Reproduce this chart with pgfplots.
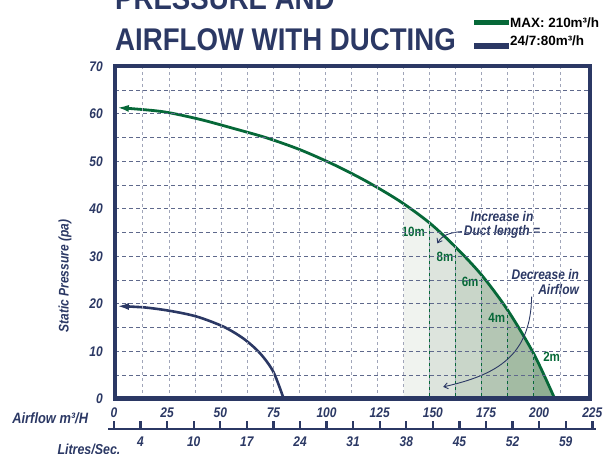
\documentclass[border=0pt]{standalone}
\usepackage{fontspec}
\setmainfont{Liberation Sans}
\newfontfamily\cf[FakeStretch=0.86]{Liberation Sans}
\newfontfamily\titlef[FakeStretch=0.88]{Liberation Sans}
\usepackage{pgfplots}
\usepackage{pgfplotstable}
\pgfplotsset{compat=1.18}
\usepgfplotslibrary{fillbetween}
\usetikzlibrary{arrows.meta}

\definecolor{navy}{RGB}{43,56,100}
\definecolor{dgreen}{RGB}{6,104,56}
\definecolor{fa}{RGB}{240,243,239}
\definecolor{fb}{RGB}{221,228,221}
\definecolor{fc}{RGB}{201,214,201}
\definecolor{fd}{RGB}{180,198,180}
\definecolor{fe}{RGB}{163,187,163}
\definecolor{ff}{RGB}{143,175,147}
\definecolor{gridx}{RGB}{160,165,185}
\definecolor{gridy}{RGB}{95,105,140}

\pgfplotstableread{
x y
0 61.3
12 60.9
24 60.3
40 58.8
56 56.9
72 54.9
88 52.4
104 49.3
120 45.7
136 41.5
150 37.0
162.5 31.9
175 26.0
187.5 18.6
200 9.4
210 0
}\maxdata

\pgfplotstableread{
x y
0 19.5
12.7 19.25
25.5 18.5
38.3 17.3
51 15.2
60.6 12.7
68.6 9.6
75 5.7
80 0
}\ecodata

\newcommand{\lab}{\cf\bfseries\itshape}

\begin{document}
\begin{tikzpicture}
\begin{axis}[
  scale only axis, width=475bp, height=332.5bp,
  at={(115bp,55.25bp)}, anchor=south west,
  xmin=-0.9, xmax=226.9, ymin=0, ymax=70,
  clip=false,
  axis on top,
  axis line style={navy, line width=4.5bp},
  xtick={12.5,25,...,212.5}, xticklabels={},
  ytick={0,10,...,70}, minor ytick={5,15,...,65},
  xmajorgrids=true, ymajorgrids=true, yminorgrids=true,
  major x grid style={gridx, line width=0.9bp, dash pattern=on 3bp off 3bp},
  major y grid style={gridy, line width=0.9bp, dash pattern=on 4bp off 3bp},
  minor y grid style={gridy, line width=0.9bp, dash pattern=on 4bp off 3bp},
  major tick length=0pt, minor tick length=0pt,
  /pgf/number format/assume math mode=true,
  yticklabel style={font=\lab\fontsize{14}{14}\selectfont, text=navy, inner sep=0pt, anchor=east, xshift=-12bp},
]
\addplot[draw=none, name path=G, smooth, forget plot] table {\maxdata};
\path[name path=B] (axis cs:0,0) -- (axis cs:226,0);
\addplot[fill=fa, draw=none] fill between[of=G and B, soft clip={domain=137.5:150}];
\addplot[fill=fb, draw=none] fill between[of=G and B, soft clip={domain=150:162.5}];
\addplot[fill=fc, draw=none] fill between[of=G and B, soft clip={domain=162.5:175}];
\addplot[fill=fd, draw=none] fill between[of=G and B, soft clip={domain=175:187.5}];
\addplot[fill=fe, draw=none] fill between[of=G and B, soft clip={domain=187.5:200}];
\addplot[fill=ff, draw=none] fill between[of=G and B, soft clip={domain=200:211}];

\addplot[dgreen, line width=1.1bp] coordinates {(150,0) (150,37.0)};
\addplot[dgreen, line width=1.1bp] coordinates {(162.5,0) (162.5,31.9)};
\addplot[dgreen, line width=1.1bp] coordinates {(175,0) (175,26.0)};
\addplot[dgreen, line width=1.1bp] coordinates {(187.5,0) (187.5,18.6)};
\addplot[dgreen, line width=1.1bp] coordinates {(200,0) (200,9.4)};

\addplot[dgreen, line width=2.8bp, smooth, {Latex[length=12bp,width=7bp]}-] table {\maxdata};
\addplot[navy, line width=2.6bp, smooth, {Latex[length=12bp,width=7bp]}-] table {\ecodata};

\node[dgreen, font=\cf\bfseries\fontsize{13.5}{13.5}\selectfont] at (axis cs:142.2,35.2) {10m};
\node[dgreen, font=\cf\bfseries\fontsize{13.5}{13.5}\selectfont] at (axis cs:157.4,29.9) {8m};
\node[dgreen, font=\cf\bfseries\fontsize{13.5}{13.5}\selectfont] at (axis cs:169.4,24.6) {6m};
\node[dgreen, font=\cf\bfseries\fontsize{13.5}{13.5}\selectfont] at (axis cs:182.2,17.1) {4m};
\node[dgreen, font=\cf\bfseries\fontsize{13.5}{13.5}\selectfont] at (axis cs:208.5,8.9) {2m};

\node[navy, align=center, font=\lab\fontsize{14}{14.5}\selectfont] at (axis cs:184.7,36.6) {Increase in\\Duct length =};
\draw[navy, line width=0.9bp, -{Straight Barb[length=4bp,width=6bp]}] (axis cs:165.4,35.2) .. controls (axis cs:160,35) and (axis cs:156,34.5) .. (axis cs:153.7,32.7);

\node[navy, align=right, anchor=east, font=\lab\fontsize{14}{14.5}\selectfont] at (axis cs:223.3,24.6) {Decrease in\\Airflow};
\draw[navy, line width=0.9bp, -{Straight Barb[length=4bp,width=6bp]}] (axis cs:198.9,21.5) .. controls (axis cs:198.5,9) and (axis cs:182,5) .. (axis cs:156.5,2.5);

\node[rotate=90, navy, font=\lab\fontsize{14}{14}\selectfont] at (axis cs:-24.9,25.8) {Static Pressure (pa)};
\end{axis}

\begin{axis}[scale only axis, width=478.3bp, height=10bp, at={(114bp,25bp)}, anchor=south west,
  xmin=0, xmax=225, ymin=0, ymax=1, hide axis, clip=false]
\draw[navy, line width=2.8bp] (axis cs:-2.8,0) -- (axis cs:226.6,0);
\pgfplotsinvokeforeach{0,12.5,25,37.5,50,62.5,75,87.5,100,112.5,125,137.5,150,162.5,175,187.5,200,212.5,225}{
  \draw[navy, line width=2.4bp] (axis cs:#1,0) -- (axis cs:#1,0.85);
}
\pgfplotsinvokeforeach{0,25,50,75,100,125,150,175,200,225}{
  \node[navy, font=\lab\fontsize{14}{14}\selectfont] at (axis cs:#1,1.65) {#1};
}
\node[navy, font=\lab\fontsize{14}{14}\selectfont] at (axis cs:12.5,-1.27) {4};
\node[navy, font=\lab\fontsize{14}{14}\selectfont] at (axis cs:37.5,-1.27) {10};
\node[navy, font=\lab\fontsize{14}{14}\selectfont] at (axis cs:62.5,-1.27) {17};
\node[navy, font=\lab\fontsize{14}{14}\selectfont] at (axis cs:87.5,-1.27) {24};
\node[navy, font=\lab\fontsize{14}{14}\selectfont] at (axis cs:112.5,-1.27) {31};
\node[navy, font=\lab\fontsize{14}{14}\selectfont] at (axis cs:137.5,-1.27) {38};
\node[navy, font=\lab\fontsize{14}{14}\selectfont] at (axis cs:162.5,-1.27) {45};
\node[navy, font=\lab\fontsize{14}{14}\selectfont] at (axis cs:187.5,-1.27) {52};
\node[navy, font=\lab\fontsize{14}{14}\selectfont] at (axis cs:212.5,-1.27) {59};
\node[navy, anchor=east, inner sep=0pt, font=\lab\fontsize{15}{15}\selectfont] at (axis cs:-12.1,1.1) {Airflow m³/H};
\node[navy, anchor=east, inner sep=0pt, font=\lab\fontsize{14.5}{14.5}\selectfont] at (axis cs:3.1,-2.0) {Litres/Sec.};
\end{axis}

\node[anchor=base west, inner sep=0pt, navy, font=\titlef\bfseries\fontsize{31.5}{31.5}\selectfont] at (115bp,444.3bp) {PRESSURE AND};
\node[anchor=base west, inner sep=0pt, navy, font=\titlef\bfseries\fontsize{31.5}{31.5}\selectfont] at (115bp,403.4bp) {AIRFLOW WITH DUCTING};

\draw[dgreen, line width=5.5bp] (474bp,431.4bp) -- (509bp,431.4bp);
\node[anchor=base west, inner sep=0pt, font=\bfseries\fontsize{13.5}{13.5}\selectfont] at (510bp,426.8bp) {MAX: 210m³/h};
\draw[navy, line width=5.5bp] (474bp,408bp) -- (509bp,408bp);
\node[anchor=base west, inner sep=0pt, font=\bfseries\fontsize{13.5}{13.5}\selectfont] at (510bp,408.5bp) {24/7:80m³/h};

\pgfresetboundingbox
\useasboundingbox (0,0) rectangle (608bp,454bp);
\end{tikzpicture}
\end{document}
